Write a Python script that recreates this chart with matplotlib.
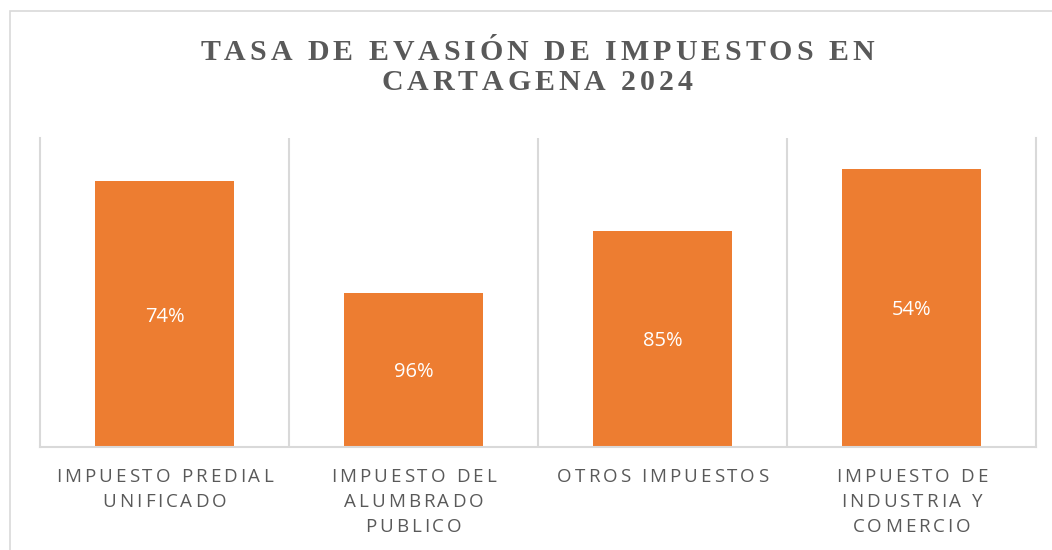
import matplotlib
matplotlib.use("Agg")
import matplotlib.pyplot as plt
from matplotlib.font_manager import FontProperties, findfont, get_font
from matplotlib.patches import Rectangle

# data
categories = [["IMPUESTO PREDIAL", "UNIFICADO"],
              ["IMPUESTO DEL", "ALUMBRADO", "PUBLICO"],
              ["OTROS IMPUESTOS"],
              ["IMPUESTO DE", "INDUSTRIA Y", "COMERCIO"]]
values = [0.86, 0.50, 0.70, 0.90]
value_labels = ["74%", "96%", "85%", "54%"]
title_lines = ["TASA DE EVASIÓN DE IMPUESTOS EN", "CARTAGENA 2024"]

W, H, DPI = 1052, 550, 100
ORANGE = "#ed7d31"
GRAY_TXT = "#595959"
GRID = "#d9d9d9"


def advances(text, family, size, weight="normal"):
    font = get_font(findfont(FontProperties(family=family, weight=weight)))
    font.set_size(size, DPI)
    out = []
    for c in text:
        g = font.load_char(ord(c))
        out.append(g.linearHoriAdvance / 65536)
    return out


def spaced_text(fig, xc, y, text, family, size, tracking, color, weight="normal"):
    """draw text centred at pixel xc, baseline at pixel y (from top), with extra letter spacing"""
    adv = advances(text, family, size, weight)
    total = sum(adv) + tracking * (len(text) - 1)
    x = xc - total / 2
    for c, a in zip(text, adv):
        if c != " ":
            fig.text(x / W, 1 - y / H, c, family=family, size=size, weight=weight,
                     color=color, ha="left", va="baseline")
        x += a + tracking


fig = plt.figure(figsize=(W / DPI, H / DPI), dpi=DPI)
fig.patches.append(Rectangle((10 / W, -0.1), 1.2, 1 - 11 / H + 0.1, transform=fig.transFigure,
                             fill=False, edgecolor=GRID, linewidth=1.2))

ax_l, ax_r, ax_t, ax_b = 40, 1036, 138, 447
ax = fig.add_axes([ax_l / W, 1 - ax_b / H, (ax_r - ax_l) / W, (ax_b - ax_t) / H])

x = list(range(len(values)))
bars = ax.bar(x, values, width=0.56, color=ORANGE, zorder=2)
ax.set_xlim(-0.5, len(values) - 0.5)
ax.set_ylim(0, 1)

for b in [i + 0.5 for i in range(len(values) - 1)]:
    ax.axvline(b, color=GRID, linewidth=1.5, zorder=1)
ax.spines["top"].set_visible(False)
for side in ["left", "right", "bottom"]:
    ax.spines[side].set_color(GRID)
    ax.spines[side].set_linewidth(1.5)
ax.set_xticks([])
ax.set_yticks([])

for bar, lab in zip(bars, value_labels):
    ax.text(bar.get_x() + bar.get_width() / 2, bar.get_height() / 2, lab,
            ha="center", va="center_baseline", color="white", family="Open Sans", size=14.5)

# title
spaced_text(fig, 537, 60, title_lines[0], "Liberation Serif", 21.5, 4.0, GRAY_TXT, "bold")
spaced_text(fig, 537, 90, title_lines[1], "Liberation Serif", 21.5, 4.0, GRAY_TXT, "bold")

# category labels
cat_w = (ax_r - ax_l) / len(categories)
for i, lines in enumerate(categories):
    xc = ax_l + cat_w * (i + 0.5)
    for j, line in enumerate(lines):
        spaced_text(fig, xc, 481.5 + 25.5 * j, line, "Open Sans", 13.5, 3.0, GRAY_TXT)

fig.savefig("out.png", dpi=DPI)
